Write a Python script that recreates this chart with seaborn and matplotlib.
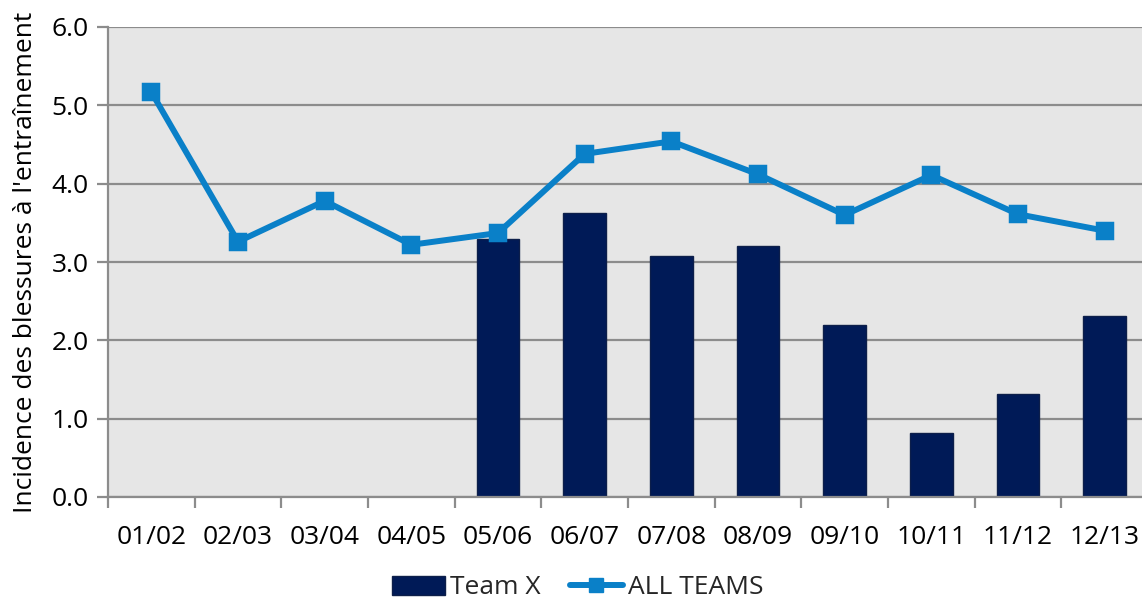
import numpy as np
import pandas as pd
import matplotlib
matplotlib.use("Agg")
import matplotlib.pyplot as plt
from matplotlib.patches import Patch
from matplotlib.lines import Line2D
from matplotlib.ticker import FixedLocator, FormatStrFormatter
import seaborn as sns

seasons = ["01/02", "02/03", "03/04", "04/05", "05/06", "06/07",
           "07/08", "08/09", "09/10", "10/11", "11/12", "12/13"]
team_x = [np.nan, np.nan, np.nan, np.nan, 3.30, 3.63, 3.08, 3.20, 2.20, 0.82, 1.31, 2.31]
all_teams = [5.17, 3.26, 3.78, 3.22, 3.37, 4.38, 4.54, 4.12, 3.60, 4.11, 3.61, 3.40]
y_ticks = [0, 1, 2, 3, 4, 5, 6]

bar_color = "#001a57"
line_color = "#0a80c8"
grid_color = "#8c8c8c"
bg_color = "#e6e6e6"

sns.set_theme(style="white")
plt.rcParams["font.family"] = ["Open Sans", "DejaVu Sans"]

df = pd.DataFrame({"season": seasons, "team_x": team_x, "all_teams": all_teams})

fig = plt.figure(figsize=(11.42, 6.02), dpi=100)
ax = fig.add_axes([108 / 1142, 1 - 497 / 602, 1040 / 1142, 470 / 602])
ax.set_facecolor(bg_color)

sns.barplot(data=df, x="season", y="team_x", color=bar_color, width=0.49,
            saturation=1, edgecolor="#0d1f4a", linewidth=1, ax=ax, zorder=2)
sns.pointplot(data=df, x="season", y="all_teams", color=line_color,
              marker="s", markersize=10, linewidth=4.3, ax=ax, zorder=3)

ax.set_xlim(-0.5, 11.5)
ax.set_ylim(0, 6)
ax.yaxis.set_major_locator(FixedLocator(y_ticks))
ax.yaxis.set_major_formatter(FormatStrFormatter("%.1f"))
ax.xaxis.set_minor_locator(FixedLocator(np.arange(-0.5, 12, 1.0)))

ax.grid(axis="y", color=grid_color, linewidth=1.6, zorder=1)
ax.set_axisbelow(True)
for side in ["top", "right"]:
    ax.spines[side].set_visible(False)
for side in ["left", "bottom"]:
    ax.spines[side].set_color(grid_color)
    ax.spines[side].set_linewidth(1.6)

ax.tick_params(axis="y", which="major", length=8, width=1.6, color=grid_color,
               labelsize=19, labelcolor="black", pad=6, direction="out", left=True)
ax.tick_params(axis="x", which="major", length=0, labelsize=19,
               labelcolor="black", pad=20)
ax.tick_params(axis="x", which="minor", length=8, width=1.6, color=grid_color,
               direction="out", bottom=True)

ax.set_xlabel("")
ax.set_ylabel("Incidence des blessures à l'entraînement", fontsize=19,
              color="black", labelpad=10)

handles = [
    Patch(facecolor=bar_color, edgecolor="#0d1f4a", label="Team X"),
    Line2D([0], [0], color=line_color, linewidth=4.3, marker="s",
           markersize=10, label="ALL TEAMS"),
]
fig.legend(handles=handles, loc="center", bbox_to_anchor=(578 / 1142, 1 - 588 / 602),
           ncol=2, frameon=False, fontsize=19, handlelength=2.0,
           handletextpad=0.2, columnspacing=1.1, borderaxespad=0)

fig.savefig("out.png", dpi=100)
